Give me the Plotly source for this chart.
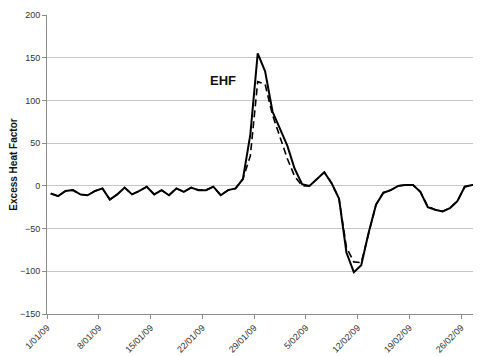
import plotly.graph_objects as go

# daily values, 1 Jan 2009 .. 28 Feb 2009
day_index = list(range(59))
ehf_solid = [-9, -12, -6, -5, -10, -11, -6, -3, -16, -10,
             -2, -10, -6, -1, -10, -5, -11, -3, -7, -2,
             -5, -5, -1, -11, -5, -3, 8, 60, 155, 134,
             87, 68, 47, 20, 2, 0, 8, 16, 3, -15,
             -78, -101, -93, -55, -22, -8, -5, 0, 1, 1,
             -7, -25, -28, -30, -26, -18, -1, 1, 0]
ehf_dashed = [-9, -12, -6, -5, -10, -11, -6, -3, -16, -10,
              -2, -10, -6, -1, -10, -5, -11, -3, -7, -2,
              -5, -5, -1, -11, -5, -3, 8, 35, 122, 119,
              83, 57, 32, 11, 0, 0, 8, 16, 3, -15,
              -72, -89, -90, -55, -22, -8, -5, 0, 1, 1,
              -7, -24, -28, -30, -26, -18, -1, 1, 0]
tick_pos = [-0.5, 6.5, 13.5, 20.5, 27.5, 34.5, 41.5, 48.5, 55.5]
tick_text = ["1/01/09", "8/01/09", "15/01/09", "22/01/09", "29/01/09",
             "5/02/09", "12/02/09", "19/02/09", "26/02/09"]

FONT = "Liberation Sans, Arial, sans-serif"
AXIS_GREY = "#8c8c8c"

fig = go.Figure()

fig.add_trace(go.Scatter(
    x=day_index, y=ehf_dashed, mode="lines",
    line=dict(color="black", width=1.6, dash="7px,4px"),
    showlegend=False,
))
fig.add_trace(go.Scatter(
    x=day_index, y=ehf_solid, mode="lines",
    line=dict(color="black", width=2),
    showlegend=False,
))

fig.add_annotation(
    x=23.3, y=123, xref="x", yref="y",
    text="<b>EHF</b>", showarrow=False,
    font=dict(family=FONT, size=13, color="#111"),
)

fig.update_xaxes(
    range=[-0.5, 58.2], automargin=False,
    tickmode="array", tickvals=tick_pos, ticktext=tick_text,
    tickangle=-45, tickfont=dict(family=FONT, size=9, color="#333"),
    showgrid=False, zeroline=False,
    showline=True, linecolor=AXIS_GREY, linewidth=1,
    ticks="outside", ticklen=4, tickcolor=AXIS_GREY,
)
fig.update_yaxes(
    range=[-150, 200], dtick=50, automargin=False,
    tickfont=dict(family=FONT, size=9, color="#333"),
    title=dict(text="<b>Excess Heat Factor</b>",
               font=dict(family=FONT, size=10, color="#111"), standoff=8),
    showgrid=True, gridcolor="#c8c8c8", gridwidth=1, zeroline=False,
    showline=True, linecolor=AXIS_GREY, linewidth=1,
    ticks="outside", ticklen=4, tickcolor=AXIS_GREY,
)

# page body keeps an 8px margin, so the figure is sized to fit inside it
fig.update_layout(
    width=473, height=348,
    margin=dict(l=39, r=0, t=7, b=42),
    paper_bgcolor="white", plot_bgcolor="white",
    font=dict(family=FONT),
)

fig.write_html("out.html")
